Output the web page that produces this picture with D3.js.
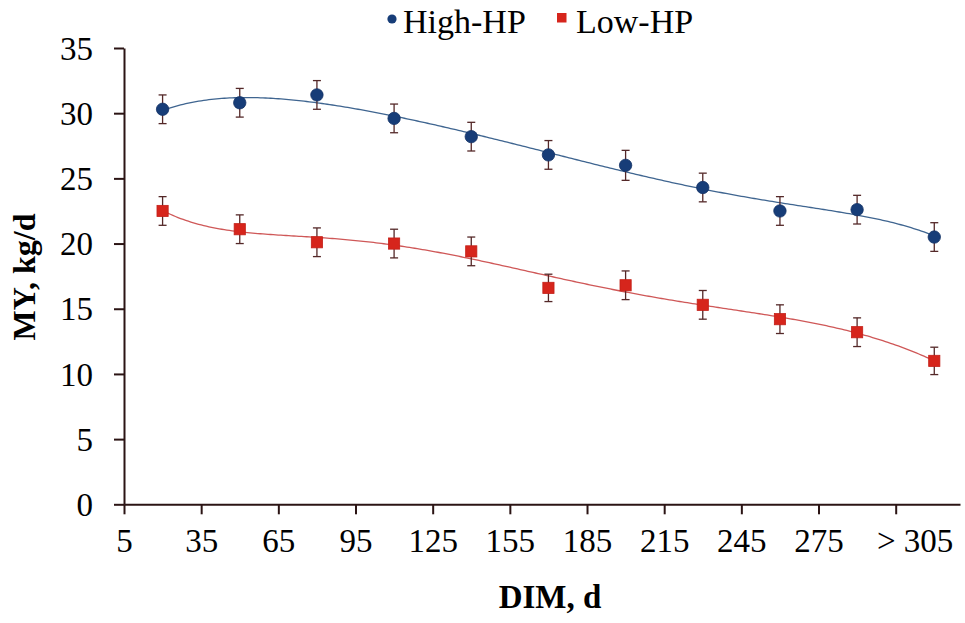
<!DOCTYPE html>
<html>
<head>
<meta charset="utf-8">
<script src="https://cdn.jsdelivr.net/npm/d3@7"></script>
<style>
  html, body { margin: 0; padding: 0; background: #fff; }
  svg { display: block; }
  text { font-family: "Liberation Serif", "Times New Roman", serif; fill: #000; }
</style>
</head>
<body>
<svg id="chart" width="965" height="623"></svg>
<script>
// Days in milk (bin midpoints) and mean milk yield with SE for each group
const dim = [20, 50, 80, 110, 140, 170, 200, 230, 260, 290, 320];
const highHP = [30.3, 30.8, 31.4, 29.6, 28.2, 26.8, 26.0, 24.3, 22.5, 22.6, 20.5];
const highHPse = [1.1, 1.1, 1.1, 1.1, 1.1, 1.1, 1.15, 1.1, 1.1, 1.1, 1.1];
const lowHP = [22.5, 21.1, 20.1, 20.0, 19.4, 16.6, 16.8, 15.3, 14.2, 13.2, 11.0];
const lowHPse = [1.1, 1.1, 1.1, 1.1, 1.1, 1.05, 1.1, 1.1, 1.1, 1.1, 1.05];
const xTicks = [5, 35, 65, 95, 125, 155, 185, 215, 245, 275, 305];
const xTickLabels = ["5", "35", "65", "95", "125", "155", "185", "215", "245", "275", "> 305"];
const yTicks = [0, 5, 10, 15, 20, 25, 30, 35];
const seriesNames = ["High-HP", "Low-HP"];

const svg = d3.select("#chart");
const axisColor = "#2b1414";

const x = d3.scaleLinear().domain([5, 330]).range([124, 960]);
const y = d3.scaleLinear().domain([0, 35]).range([504.3, 48]);

// Least-squares polynomial trendline
function polyFit(xs, ys, order) {
  const c = 170, s = 150;
  const n = order + 1;
  const A = Array.from({length: n}, () => new Array(n + 1).fill(0));
  xs.forEach((xv, k) => {
    const t = (xv - c) / s;
    const p = [];
    for (let i = 0; i < n; i++) p.push(Math.pow(t, i));
    for (let i = 0; i < n; i++) {
      for (let j = 0; j < n; j++) A[i][j] += p[i] * p[j];
      A[i][n] += p[i] * ys[k];
    }
  });
  for (let i = 0; i < n; i++) {
    let piv = i;
    for (let r = i + 1; r < n; r++) if (Math.abs(A[r][i]) > Math.abs(A[piv][i])) piv = r;
    [A[i], A[piv]] = [A[piv], A[i]];
    for (let r = 0; r < n; r++) {
      if (r === i) continue;
      const f = A[r][i] / A[i][i];
      for (let k2 = i; k2 <= n; k2++) A[r][k2] -= f * A[i][k2];
    }
  }
  const coef = A.map((row, i) => row[n] / row[i]);
  return xv => {
    const t = (xv - c) / s;
    return coef.reduce((acc, b, i) => acc + b * Math.pow(t, i), 0);
  };
}

// Axes
const yAxis = d3.axisLeft(y).tickValues(yTicks).tickSize(10).tickPadding(21).tickSizeOuter(0);
const xAxis = d3.axisBottom(x).tickValues(xTicks).tickSize(10).tickPadding(12).tickSizeOuter(0)
  .tickFormat((d, i) => xTickLabels[i]);

const gy = svg.append("g").attr("transform", "translate(124,0)").call(yAxis);
const gx = svg.append("g").attr("transform", "translate(0,504.3)").call(xAxis);
[gx, gy].forEach(g => {
  g.select(".domain").attr("stroke", axisColor).attr("stroke-width", 2);
  g.selectAll(".tick line").attr("stroke", axisColor).attr("stroke-width", 2);
  g.selectAll(".tick text").attr("font-size", 33).attr("fill", "#000")
    .style("font-family", '"Liberation Serif", "Times New Roman", serif');
});
gy.selectAll(".tick text").attr("dy", "0.34em");
gx.selectAll(".tick text").attr("dy", "0.78em")
  .attr("dx", (d, i) => i === xTickLabels.length - 1 ? 19 : 0);

// Axis titles
svg.append("text").attr("x", 550).attr("y", 608).attr("text-anchor", "middle")
  .attr("font-size", 33).attr("font-weight", "bold").text("DIM, d");
svg.append("text").attr("transform", "translate(35,277) rotate(-90)").attr("text-anchor", "middle")
  .attr("font-size", 32).attr("font-weight", "bold").text("MY, kg/d");

const series = [
  {name: seriesNames[0], vals: highHP, se: highHPse, color: "#173d78", line: "#3f6590", shape: "circle"},
  {name: seriesNames[1], vals: lowHP, se: lowHPse, color: "#d6251c", line: "#cf5858", shape: "square"}
];

const grid = d3.range(20, 320.5, 1);

series.forEach(sr => {
  const f = polyFit(dim, sr.vals, 6);
  const line = d3.line().x(d => x(d)).y(d => y(f(d))).curve(d3.curveLinear);
  svg.append("path").datum(grid).attr("d", line)
    .attr("fill", "none").attr("stroke", sr.line).attr("stroke-width", 1.3);

  const pts = dim.map((d, i) => ({d, v: sr.vals[i], e: sr.se[i]}));
  const eb = svg.append("g").attr("stroke", "#542828").attr("stroke-width", 1.3);
  pts.forEach(p => {
    eb.append("line").attr("x1", x(p.d)).attr("x2", x(p.d)).attr("y1", y(p.v - p.e)).attr("y2", y(p.v + p.e));
    [p.v - p.e, p.v + p.e].forEach(v => {
      eb.append("line").attr("x1", x(p.d) - 4).attr("x2", x(p.d) + 4).attr("y1", y(v)).attr("y2", y(v));
    });
  });

  const mk = svg.append("g");
  if (sr.shape === "circle") {
    mk.selectAll("circle").data(pts).join("circle")
      .attr("cx", p => x(p.d)).attr("cy", p => y(p.v)).attr("r", 6.2)
      .attr("fill", sr.color).attr("stroke", "#143266").attr("stroke-width", 0.8);
  } else {
    mk.selectAll("rect").data(pts).join("rect")
      .attr("x", p => x(p.d) - 5.6).attr("y", p => y(p.v) - 5.6).attr("width", 11.2).attr("height", 11.2)
      .attr("fill", sr.color).attr("stroke", "#c42018").attr("stroke-width", 0.8);
  }
});

// Legend
const lg = svg.append("g");
lg.append("circle").attr("cx", 392).attr("cy", 19).attr("r", 4.6).attr("fill", series[0].color);
lg.append("text").attr("x", 403).attr("y", 33).attr("font-size", 34).text(seriesNames[0]);
lg.append("rect").attr("x", 557).attr("y", 13).attr("width", 9.5).attr("height", 9.5).attr("fill", series[1].color);
lg.append("text").attr("x", 576).attr("y", 33).attr("font-size", 34).text(seriesNames[1]);
</script>
</body>
</html>
